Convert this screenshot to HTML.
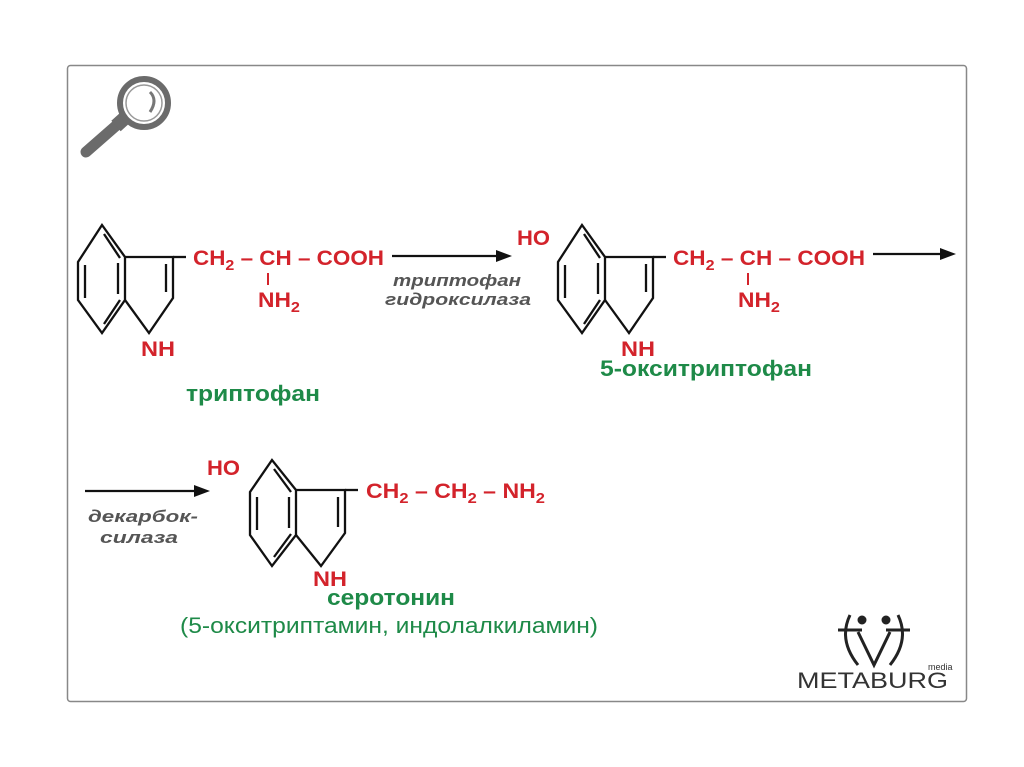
<!DOCTYPE html>
<html><head><meta charset="utf-8"><style>
html,body{margin:0;padding:0;background:#fff;}
svg{display:block;}
.r{fill:#d3232b;font-family:"Liberation Sans",sans-serif;font-weight:bold;font-size:21px;}
.s{font-size:15px;}
.g{fill:#1e8a48;font-family:"Liberation Sans",sans-serif;font-weight:bold;font-size:22px;}
.i{fill:#555;font-family:"Liberation Sans",sans-serif;font-weight:bold;font-style:italic;font-size:17px;}
.b{stroke:#111;stroke-width:2.3;fill:none;stroke-linejoin:miter;}
</style></head><body>
<svg width="1024" height="767" viewBox="0 0 1024 767" xmlns="http://www.w3.org/2000/svg">
<rect x="0" y="0" width="1024" height="767" fill="#fff"/>
<rect x="67.5" y="65.5" width="899" height="636" rx="3" fill="#fff" stroke="#888" stroke-width="1.5"/>
<g>
<line x1="86" y1="152" x2="118" y2="124" stroke="#6b6b6b" stroke-width="11" stroke-linecap="round"/>
<line x1="116" y1="126" x2="126" y2="117" stroke="#6b6b6b" stroke-width="14"/>
<circle cx="144" cy="103" r="24" fill="#fff" stroke="#6b6b6b" stroke-width="6"/>
<circle cx="144" cy="103" r="18" fill="none" stroke="#999" stroke-width="1.5"/>
<path d="M150 92 q8 8 0 20" stroke="#777" stroke-width="3" fill="none"/>
</g>
<g class="b">
<polygon points="102,225 78,262 78,300 102,333 125,300 125,257"/>
<polyline points="125,257 173,257 173,298 149,333 125,300"/>
<line x1="85" y1="265" x2="85" y2="298"/>
<line x1="104" y1="234" x2="120" y2="258"/>
<line x1="104" y1="324" x2="120" y2="300"/>
<line x1="118" y1="263" x2="118" y2="294"/>
<line x1="166" y1="264" x2="166" y2="292"/>
<line x1="173" y1="257" x2="186" y2="257"/>
</g>
<text class="r" x="193" y="265" textLength="191" lengthAdjust="spacingAndGlyphs">CH<tspan class="s" dy="5">2</tspan><tspan dy="-5"> – CH – COOH</tspan></text>
<line x1="268" y1="273" x2="268" y2="285" stroke="#d3232b" stroke-width="2"/>
<text class="r" x="258" y="307" textLength="42" lengthAdjust="spacingAndGlyphs">NH<tspan class="s" dy="5">2</tspan></text>
<text class="r" x="141" y="356" textLength="34" lengthAdjust="spacingAndGlyphs">NH</text>
<line x1="392" y1="256" x2="500" y2="256" stroke="#111" stroke-width="2.3"/>
<polygon points="512,256 496,250 496,262" fill="#111"/>
<text class="i" x="393" y="286" textLength="128" lengthAdjust="spacingAndGlyphs">триптофан</text>
<text class="i" x="385" y="305" textLength="146" lengthAdjust="spacingAndGlyphs">гидроксилаза</text>
<text class="g" x="186" y="401" textLength="134" lengthAdjust="spacingAndGlyphs">триптофан</text>
<g class="b" transform="translate(480,0)">
<polygon points="102,225 78,262 78,300 102,333 125,300 125,257"/>
<polyline points="125,257 173,257 173,298 149,333 125,300"/>
<line x1="85" y1="265" x2="85" y2="298"/>
<line x1="104" y1="234" x2="120" y2="258"/>
<line x1="104" y1="324" x2="120" y2="300"/>
<line x1="118" y1="263" x2="118" y2="294"/>
<line x1="166" y1="264" x2="166" y2="292"/>
<line x1="173" y1="257" x2="186" y2="257"/>
</g>
<text class="r" x="517" y="245" textLength="33" lengthAdjust="spacingAndGlyphs">HO</text>
<text class="r" x="673" y="265" textLength="192" lengthAdjust="spacingAndGlyphs">CH<tspan class="s" dy="5">2</tspan><tspan dy="-5"> – CH – COOH</tspan></text>
<line x1="748" y1="273" x2="748" y2="285" stroke="#d3232b" stroke-width="2"/>
<text class="r" x="738" y="307" textLength="42" lengthAdjust="spacingAndGlyphs">NH<tspan class="s" dy="5">2</tspan></text>
<text class="r" x="621" y="356" textLength="34" lengthAdjust="spacingAndGlyphs">NH</text>
<line x1="873" y1="254" x2="944" y2="254" stroke="#111" stroke-width="2.3"/>
<polygon points="956,254 940,248 940,260" fill="#111"/>
<text class="g" x="600" y="376" textLength="212" lengthAdjust="spacingAndGlyphs">5-окситриптофан</text>
<line x1="85" y1="491" x2="198" y2="491" stroke="#111" stroke-width="2.3"/>
<polygon points="210,491 194,485 194,497" fill="#111"/>
<text class="i" x="88" y="522" textLength="110" lengthAdjust="spacingAndGlyphs">декарбок-</text>
<text class="i" x="100" y="543" textLength="78" lengthAdjust="spacingAndGlyphs">силаза</text>
<g class="b">
<polygon points="272,460 250,492 250,535 272,566 296,535 296,490"/>
<polyline points="296,490 345,490 345,533 321,566 296,535"/>
<line x1="257" y1="497" x2="257" y2="530"/>
<line x1="274" y1="469" x2="291" y2="492"/>
<line x1="274" y1="557" x2="291" y2="534"/>
<line x1="289" y1="497" x2="289" y2="528"/>
<line x1="338" y1="497" x2="338" y2="527"/>
<line x1="345" y1="490" x2="358" y2="490"/>
</g>
<text class="r" x="207" y="475" textLength="33" lengthAdjust="spacingAndGlyphs">HO</text>
<text class="r" x="366" y="498" textLength="179" lengthAdjust="spacingAndGlyphs">CH<tspan class="s" dy="5">2</tspan><tspan dy="-5"> – CH</tspan><tspan class="s" dy="5">2</tspan><tspan dy="-5"> – NH</tspan><tspan class="s" dy="5">2</tspan></text>
<text class="r" x="313" y="586" textLength="34" lengthAdjust="spacingAndGlyphs">NH</text>
<text class="g" x="327" y="605" textLength="128" lengthAdjust="spacingAndGlyphs">серотонин</text>
<text x="180" y="633" textLength="418" lengthAdjust="spacingAndGlyphs" style="fill:#1e8a48;font-family:'Liberation Sans',sans-serif;font-size:22px;">(5-окситриптамин, индолалкиламин)</text>
<g stroke="#222" stroke-width="3" fill="none">
<path d="M850 615 q-12 25 8 50 M898 615 q12 25 -8 50"/>
<path d="M858 632 l16 33 l16 -33"/>
<line x1="838" y1="630" x2="862" y2="630"/>
<line x1="886" y1="630" x2="910" y2="630"/>
<circle cx="862" cy="620" r="3" fill="#222"/><circle cx="886" cy="620" r="3" fill="#222"/>
</g>
<text x="928" y="670" style="fill:#333;font-family:'Liberation Sans',sans-serif;font-size:9px;">media</text>
<text x="797" y="688" textLength="151" lengthAdjust="spacingAndGlyphs" style="fill:#333;font-family:'Liberation Sans',sans-serif;font-size:22px;">METABURG</text>
</svg>
</body></html>
